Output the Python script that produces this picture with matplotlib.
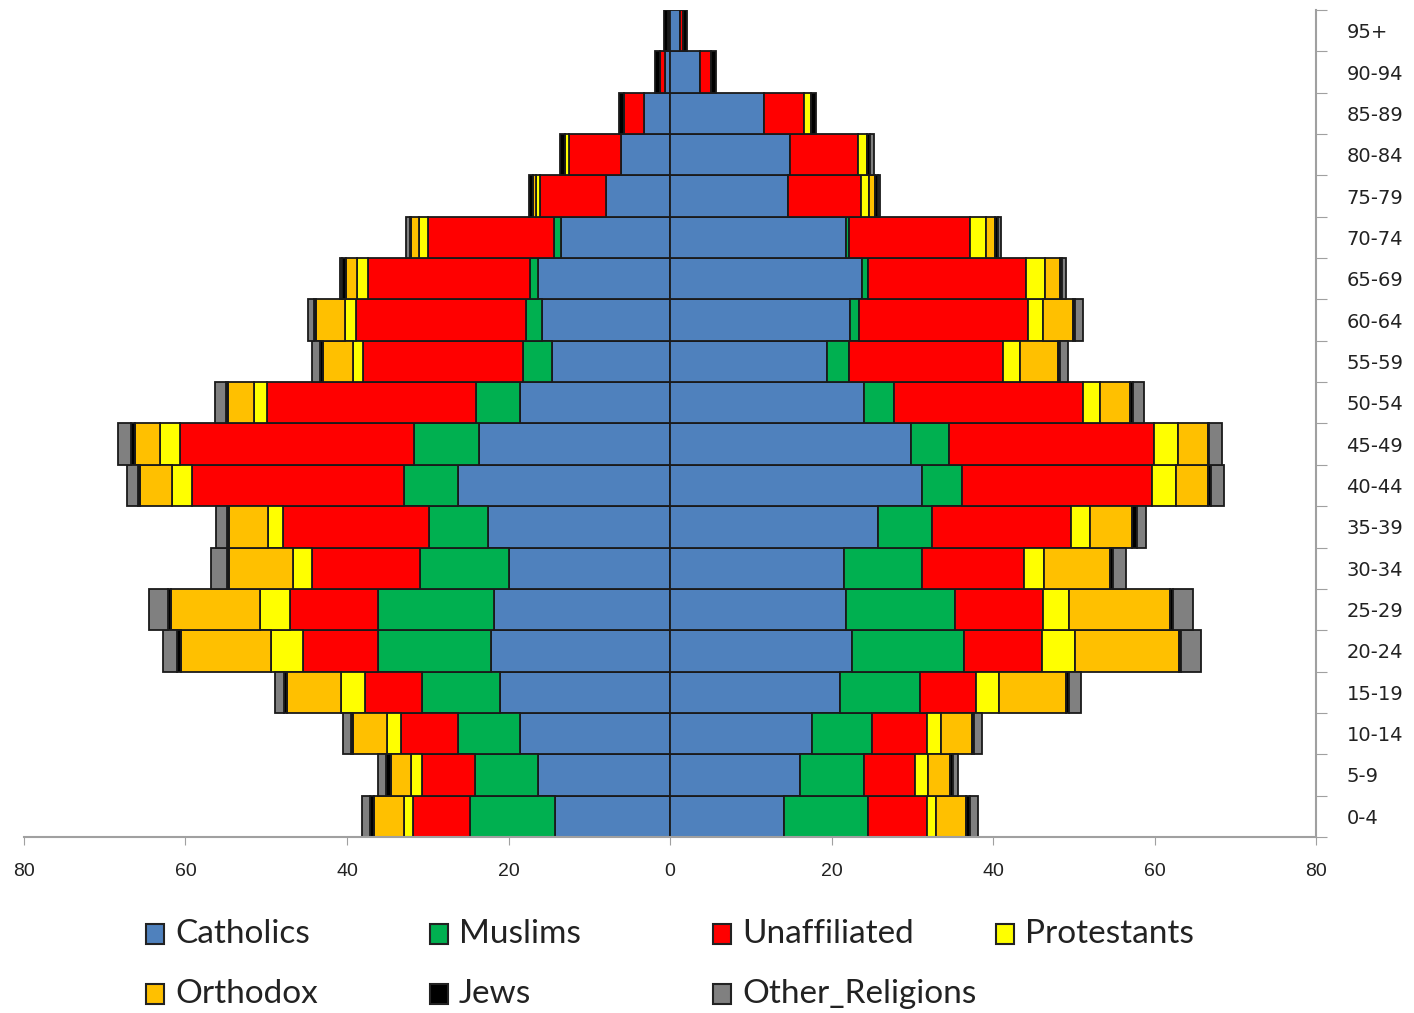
import numpy as np
import matplotlib.pyplot as plt
from matplotlib.patches import Rectangle

ages = ["0-4", "5-9", "10-14", "15-19", "20-24", "25-29", "30-34", "35-39",
        "40-44", "45-49", "50-54", "55-59", "60-64", "65-69", "70-74",
        "75-79", "80-84", "85-89", "90-94", "95+"]
religions = ["Catholics", "Muslims", "Unaffiliated", "Protestants",
             "Orthodox", "Jews", "Other_Religions"]
colors = ["#4F81BD", "#00B050", "#FF0000", "#FFFF00", "#FFC000", "#000000", "#808080"]

# left half of the pyramid
left_catholics = [14.2, 16.3, 18.6, 21.0, 22.2, 21.75, 20.0, 22.5, 26.2, 23.7,
                  18.6, 14.6, 15.8, 16.3, 13.55, 7.9, 6.1, 3.2, 0.6, 0.1]
left_muslims = [10.6, 7.9, 7.6, 9.7, 13.9, 14.4, 10.9, 7.3, 6.7, 8.0,
                5.4, 3.6, 2.0, 1.0, 0.8, 0, 0, 0, 0, 0]
left_unaffiliated = [7.0, 6.5, 7.1, 7.1, 9.4, 10.9, 13.4, 18.1, 26.3, 29.0,
                     25.9, 19.8, 21.1, 20.1, 15.6, 8.2, 6.4, 2.5, 0.6, 0.1]
left_protestants = [1.2, 1.4, 1.7, 2.9, 3.9, 3.7, 2.4, 1.9, 2.5, 2.4,
                    1.6, 1.3, 1.4, 1.4, 1.1, 0.5, 0.5, 0, 0, 0]
left_orthodox = [3.7, 2.5, 4.2, 6.7, 11.2, 11.1, 7.9, 4.8, 3.9, 3.2,
                 3.2, 3.7, 3.5, 1.3, 1.0, 0.4, 0, 0, 0, 0]
left_jews = [0.4, 0.6, 0.3, 0.4, 0.4, 0.3, 0.3, 0.3, 0.3, 0.4,
             0.3, 0.3, 0.3, 0.5, 0.2, 0.5, 0.6, 0.6, 0.6, 0.6]
left_other = [1.1, 0.9, 1.0, 1.1, 1.8, 2.4, 1.9, 1.3, 1.4, 1.6,
              1.4, 1.0, 0.7, 0.3, 0.4, 0, 0, 0, 0, 0]

# right half of the pyramid
right_catholics = [14.1, 16.1, 17.6, 21.0, 22.5, 21.75, 21.5, 25.8, 31.2, 29.8,
                   24.0, 19.5, 22.3, 23.8, 21.85, 14.6, 14.9, 11.6, 3.7, 1.3]
right_muslims = [10.4, 7.9, 7.4, 9.9, 13.9, 13.6, 9.7, 6.6, 4.9, 4.8,
                 3.7, 2.7, 1.1, 0.7, 0.3, 0, 0, 0, 0, 0]
right_unaffiliated = [7.3, 6.4, 6.8, 7.0, 9.7, 10.9, 12.6, 17.2, 23.6, 25.3,
                      23.4, 19.1, 20.9, 19.6, 15.0, 9.1, 8.4, 5.0, 1.4, 0.3]
right_protestants = [1.1, 1.5, 1.7, 2.9, 4.0, 3.2, 2.5, 2.4, 3.0, 3.0,
                     2.2, 2.0, 1.9, 2.4, 2.0, 1.0, 1.1, 0.9, 0, 0]
right_orthodox = [3.8, 2.8, 3.9, 8.2, 12.9, 12.5, 8.2, 5.2, 3.9, 3.7,
                  3.7, 4.7, 3.7, 1.8, 1.1, 0.7, 0, 0, 0, 0]
right_jews = [0.4, 0.3, 0.3, 0.4, 0.3, 0.3, 0.4, 0.6, 0.4, 0.2,
              0.3, 0.3, 0.3, 0.2, 0.4, 0.3, 0.4, 0.6, 0.6, 0.5]
right_other = [1.0, 0.7, 0.9, 1.5, 2.5, 2.5, 1.6, 1.1, 1.6, 1.6,
               1.4, 1.0, 0.9, 0.5, 0.4, 0.3, 0.5, 0, 0, 0]

left_side = [left_catholics, left_muslims, left_unaffiliated, left_protestants,
             left_orthodox, left_jews, left_other]
right_side = [right_catholics, right_muslims, right_unaffiliated, right_protestants,
              right_orthodox, right_jews, right_other]

fig = plt.figure(figsize=(14.14, 10.13), dpi=100)
ax = fig.add_axes([24 / 1414, 1 - 837 / 1013, 1292 / 1414, 827 / 1013])

y = np.arange(len(ages))
edge = "#1a1a1a"
for sign, side in [(-1, left_side), (1, right_side)]:
    start = np.zeros(len(ages))
    for vals, col in zip(side, colors):
        w = np.array(vals, dtype=float)
        lw = np.where(w > 0, 1.3, 0)
        ax.barh(y, sign * w, left=sign * start, height=1.0, color=col,
                edgecolor=edge, linewidth=lw)
        start += w

ax.set_xlim(-80, 80)
ax.set_ylim(-0.5, 19.5)

# x axis: absolute values on both sides
xt = np.arange(-80, 81, 20)
ax.set_xticks(xt)
ax.set_xticklabels([str(abs(v)) for v in xt], fontsize=14, family="Liberation Sans",
                   color="#222222")
ax.tick_params(axis="x", direction="out", length=6, color="#a0a0a0", pad=13)

# y axis on the right, ticks between categories
ax.yaxis.tick_right()
ax.set_yticks(np.arange(-0.5, 20, 1))
ax.set_yticklabels([])
ax.set_yticks(y, minor=True)
ax.set_yticklabels(ages, minor=True, fontsize=14, family="DejaVu Sans", color="#222222")
ax.tick_params(axis="y", which="major", direction="out", length=8, color="#a0a0a0")
ax.tick_params(axis="y", which="minor", length=0, pad=22)

for s in ["top", "left"]:
    ax.spines[s].set_visible(False)
for s in ["right", "bottom"]:
    ax.spines[s].set_color("#a0a0a0")
    ax.spines[s].set_linewidth(1.5)

# legend drawn by hand in a 4x2 grid
col_x = [146, 430, 713, 996]
row_y = [934, 994]
for i, (name, col) in enumerate(zip(religions, colors)):
    r, c = divmod(i, 4)
    px, py = col_x[c], row_y[r]
    fig.patches.append(Rectangle((px / 1414, 1 - (py + 10) / 1013), 18 / 1414, 20 / 1013,
                                 transform=fig.transFigure, facecolor=col,
                                 edgecolor="#222222", linewidth=1.5))
    fig.text((px + 29) / 1414, 1 - py / 1013, name, fontsize=24, family="Lato",
             va="center", ha="left", color="#222222")

fig.savefig("out.png", dpi=100)
